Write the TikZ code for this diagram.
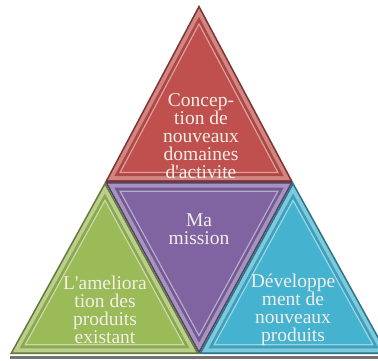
\documentclass[tikz,border=0pt]{standalone}
\usepackage{fontspec}
\setmainfont{Liberation Serif}
\usetikzlibrary{calc}

\definecolor{redside}{HTML}{C0504D}
\definecolor{purside}{HTML}{8064A2}
\definecolor{grnside}{HTML}{9BBB59}
\definecolor{cyaside}{HTML}{45B2CF}
\definecolor{labelcol}{HTML}{F3EEE8}

\tikzset{
  side text/.style={text=labelcol, align=center, inner sep=0pt,
    font=\fontsize{19.5}{18}\selectfont},
}

\begin{document}
\begin{tikzpicture}[x=1pt,y=-1pt]
  \useasboundingbox (0,0) rectangle (378,360);
  \clip (0,0) rectangle (378,360);

  % corners of the pyramid
  \coordinate (A)  at (199,5);
  \coordinate (ML) at (105,182);
  \coordinate (MR) at (293,182);
  \coordinate (MB) at (199,354);
  \coordinate (BL) at (10,354);
  \coordinate (BR) at (388,354);

  % shadow under the base
  \fill[black!55] (BL) ++(0,2) rectangle ($(BR)+(0,5)$);

  \foreach \p/\q/\r/\c in {A/ML/MR/redside, ML/MR/MB/purside,
                           ML/BL/MB/grnside, MR/MB/BR/cyaside} {
    \coordinate (g) at (barycentric cs:\p=1,\q=1,\r=1);
    \fill[\c!65!black] (\p) -- (\q) -- (\r) -- cycle;
    \fill[\c!70!white] ($(\p)!0.03!(g)$) -- ($(\q)!0.03!(g)$)
                       -- ($(\r)!0.03!(g)$) -- cycle;
    \fill[\c!90!black] ($(\p)!0.10!(g)$) -- ($(\q)!0.10!(g)$)
                       -- ($(\r)!0.10!(g)$) -- cycle;
    \fill[\c] ($(\p)!0.16!(g)$) -- ($(\q)!0.16!(g)$)
              -- ($(\r)!0.16!(g)$) -- cycle;
    \draw[\c!55!white, line width=1.2pt] ($(\p)!0.16!(g)$) -- ($(\q)!0.16!(g)$)
              -- ($(\r)!0.16!(g)$) -- cycle;
  }

  \node[side text] (ttop)   at (201,136) {Concep-\\tion de\\nouveaux\\domaines\\d\textquotesingle activite};
  \node[side text] (tmid)   at (199,229) {Ma\\mission};
  \node[side text] (tleft)  at (105,310) {L\textquotesingle ameliora\\tion des\\produits\\existant};
  \node[side text] (tright) at (293,310) {Développe\\ment de\\nouveaux\\produits};
\end{tikzpicture}
\end{document}
